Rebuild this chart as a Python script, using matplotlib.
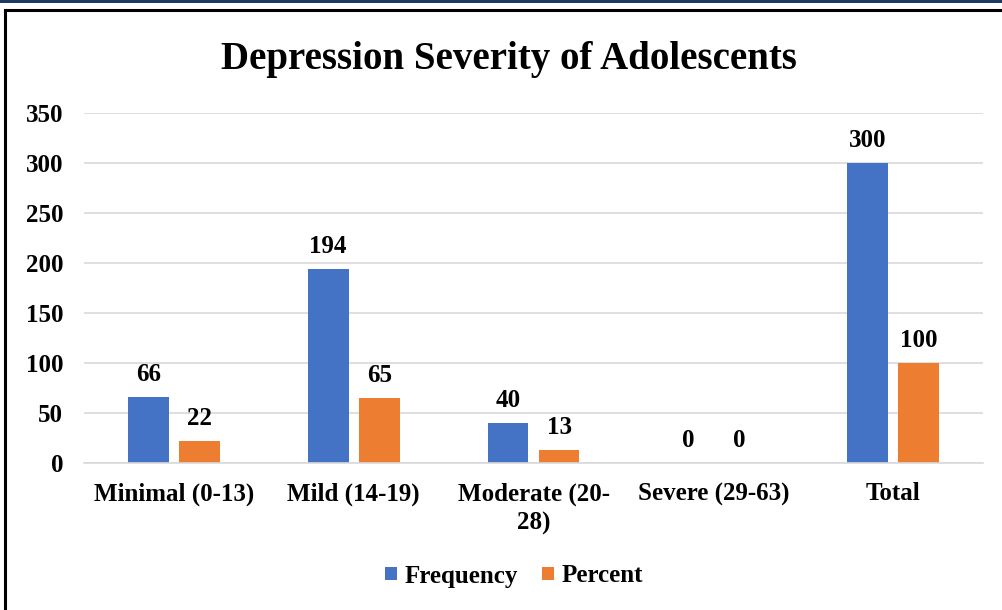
import matplotlib
matplotlib.use("Agg")
import matplotlib.pyplot as plt
import numpy as np

categories = ["Minimal (0-13)", "Mild (14-19)", "Moderate (20-\n28)", "Severe (29-63)", "Total"]
frequency = [66, 194, 40, 0, 300]
percent = [22, 65, 13, 0, 100]

blue = "#4472C4"
orange = "#ED7D31"

plt.rcParams["font.family"] = ["Liberation Serif", "DejaVu Serif"]
plt.rcParams["font.weight"] = "bold"

fig = plt.figure(figsize=(10.03, 6.10), dpi=100)
ax = fig.add_axes([84/1003, (610-463)/610, (983-84)/1003, 350/610])

x = np.arange(len(categories))
w = 0.227
off = 0.142
b1 = ax.bar(x - off, frequency, w, color=blue, label="Frequency")
b2 = ax.bar(x + off, percent, w, color=orange, label="Percent")

for bars in (b1, b2):
    for r in bars:
        ax.annotate(f"{int(r.get_height())}", (r.get_x() + r.get_width()/2, r.get_height()),
                    xytext=(0, 8), textcoords="offset points", ha="center", va="bottom",
                    fontsize=18, fontweight="bold")

ax.set_xlim(-0.5, len(categories) - 0.5)
ax.set_ylim(0, 350)
ax.set_yticks(range(0, 351, 50))
ax.grid(axis="y", color="#D9D9D9", linewidth=1.2)
ax.set_axisbelow(True)
for s in ["top", "right", "left"]:
    ax.spines[s].set_visible(False)
ax.spines["bottom"].set_color("#D9D9D9")
ax.spines["bottom"].set_linewidth(1.2)
ax.tick_params(length=0, labelsize=18)
ax.tick_params(axis="y", pad=15)
ax.tick_params(axis="x", pad=14)
ax.set_xticks(x)
ax.set_xticklabels(categories, fontweight="bold", linespacing=1.3)
for t in ax.get_yticklabels():
    t.set_fontweight("bold")

fig.text(509/1003, 1 - 69/610, "Depression Severity of Adolescents", ha="center", va="baseline",
         fontsize=28, fontweight="bold")

fig.legend(loc="center", bbox_to_anchor=(514/1003, 1 - 576/610), ncol=2, frameon=False,
           fontsize=18, handlelength=0.45, handleheight=0.45, columnspacing=1.0, handletextpad=0.3)

# frame lines around the chart
fig.add_artist(plt.Rectangle((0, 1 - 3/610), 1, 3/610, transform=fig.transFigure, color="#1F3864", lw=0))
fig.add_artist(plt.Line2D([5.5/1003, 1], [1 - 10/610, 1 - 10/610], transform=fig.transFigure, color="black", lw=2.2))
fig.add_artist(plt.Line2D([5.5/1003, 5.5/1003], [0, 1 - 10/610], transform=fig.transFigure, color="black", lw=2.2))

fig.savefig("out.png", dpi=100)
